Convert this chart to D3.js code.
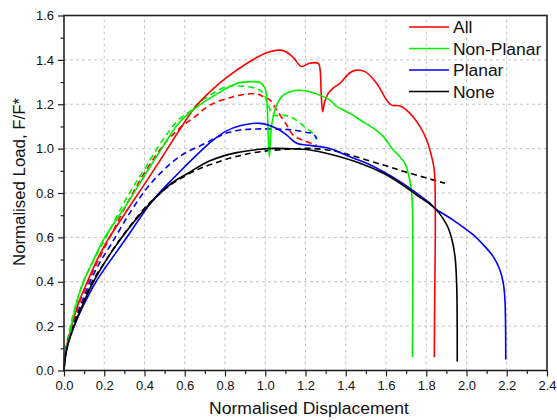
<!DOCTYPE html>
<html>
<head>
<meta charset="utf-8">
<script src="https://cdn.jsdelivr.net/npm/d3@7"></script>
<style>
  html, body { margin: 0; padding: 0; background: #fff; }
  svg { display: block; font-family: "Liberation Sans", Arial, sans-serif; }
</style>
</head>
<body>
<svg id="chart" width="557" height="420"></svg>
<script>
// Load–displacement curves, [normalised displacement, normalised load]
const allSolid = [
  [0,0],[0.005,0.06],[0.015,0.12],[0.038,0.2],[0.07,0.3],[0.116,0.4],[0.165,0.5],[0.212,0.58],
  [0.320,0.731],[0.402,0.842],[0.485,0.958],[0.568,1.076],[0.650,1.185],[0.73,1.26],[0.81,1.322],
  [0.91,1.385],[1.007,1.432],[1.065,1.444],[1.10,1.438],[1.14,1.41],[1.18,1.37],[1.22,1.385],
  [1.264,1.384],[1.272,1.36],[1.278,1.25],[1.285,1.166],[1.295,1.21],[1.313,1.249],[1.340,1.275],
  [1.371,1.294],[1.421,1.342],[1.454,1.354],[1.496,1.347],[1.554,1.294],[1.603,1.219],[1.628,1.196],
  [1.670,1.192],[1.719,1.159],[1.769,1.099],[1.802,1.039],[1.827,0.963],[1.840,0.903],[1.845,0.72],
  [1.842,0.32],[1.840,0.06]
];
const allDashed = [
  [0,0],[0.005,0.06],[0.015,0.12],[0.040,0.2],[0.075,0.3],[0.120,0.4],[0.200,0.55],
  [0.336,0.79],[0.42,0.92],[0.502,1.025],[0.585,1.10],[0.651,1.144],[0.725,1.196],[0.841,1.234],
  [0.924,1.247],[0.965,1.245],[0.990,1.234],[1.024,1.219],[1.057,1.174],[1.107,1.106],[1.139,1.061],
  [1.206,1.031],[1.256,1.016]
];
const nonPlanarSolid = [
  [0,0],[0.005,0.07],[0.021,0.137],[0.046,0.242],[0.071,0.333],[0.104,0.415],[0.146,0.498],
  [0.195,0.588],[0.320,0.761],[0.402,0.881],[0.485,1.0],[0.568,1.112],[0.651,1.181],[0.750,1.241],
  [0.858,1.294],[0.933,1.302],[0.974,1.298],[0.999,1.272],[1.010,1.18],[1.020,0.963],[1.032,1.106],
  [1.057,1.196],[1.090,1.241],[1.139,1.261],[1.206,1.260],[1.272,1.241],[1.322,1.219],[1.355,1.19],
  [1.421,1.159],[1.471,1.129],[1.537,1.092],[1.587,1.054],[1.636,0.994],[1.661,0.971],[1.694,0.934],
  [1.710,0.89],[1.725,0.82],[1.731,0.75],[1.731,0.06]
];
const nonPlanarDashed = [
  [0,0],[0.005,0.08],[0.02,0.15],[0.045,0.25],[0.096,0.4],[0.15,0.5],[0.220,0.62],[0.320,0.791],
  [0.402,0.911],[0.485,1.031],[0.568,1.129],[0.634,1.174],[0.676,1.211],[0.808,1.279],[0.875,1.282],
  [0.958,1.270],[0.990,1.249],[1.015,1.196],[1.040,1.151],[1.090,1.151],[1.139,1.137],[1.206,1.091],
  [1.247,1.061],[1.256,1.049]
];
const planarSolid = [
  [0,0],[0.005,0.05],[0.02,0.12],[0.05,0.2],[0.1,0.3],[0.159,0.4],[0.303,0.588],
  [0.436,0.761],[0.568,0.889],[0.651,0.964],[0.742,1.039],[0.808,1.080],[0.875,1.103],[0.974,1.114],
  [1.057,1.091],[1.107,1.061],[1.156,1.024],[1.206,1.016],[1.272,1.009],[1.322,1.001],[1.421,0.963],
  [1.504,0.934],[1.587,0.896],[1.670,0.851],[1.752,0.799],[1.819,0.753],[1.843,0.731],[1.934,0.678],
  [2.034,0.611],[2.084,0.566],[2.133,0.513],[2.166,0.453],[2.183,0.393],[2.191,0.318],[2.195,0.05]
];
const planarDashed = [
  [0,0],[0.005,0.06],[0.015,0.12],[0.043,0.2],[0.085,0.3],[0.129,0.4],[0.18,0.49],[0.237,0.573],
  [0.320,0.70],[0.402,0.81],[0.485,0.895],[0.585,0.971],[0.684,1.016],[0.750,1.046],[0.808,1.07],
  [0.875,1.084],[0.974,1.089],[1.090,1.087],[1.139,1.084],[1.206,1.073],[1.239,1.066],[1.256,1.042]
];
const noneSolid = [
  [0,0],[0.005,0.05],[0.02,0.12],[0.05,0.2],[0.095,0.3],[0.146,0.4],[0.278,0.588],
  [0.436,0.761],[0.535,0.844],[0.618,0.89],[0.725,0.945],[0.858,0.982],[0.974,0.997],
  [1.05,1.001],[1.107,1.0],[1.222,0.994],[1.338,0.971],[1.471,0.934],[1.587,0.889],[1.670,0.844],
  [1.752,0.791],[1.843,0.731],[1.902,0.656],[1.926,0.596],[1.943,0.513],[1.951,0.393],[1.954,0.04]
];
const noneDashed = [
  [0,0],[0.005,0.06],[0.02,0.13],[0.05,0.21],[0.09,0.3],[0.14,0.4],[0.20,0.485],[0.27,0.58],
  [0.353,0.68],[0.436,0.765],[0.535,0.84],[0.65,0.9],[0.75,0.935],[0.858,0.965],[0.974,0.986],
  [1.107,0.997],[1.222,1.001],[1.338,0.99],[1.421,0.971],[1.587,0.926],[1.719,0.889],[1.893,0.844]
];

const seriesNames = ["All", "Non-Planar", "Planar", "None"];
const seriesColors = ["#ff0000", "#00f000", "#0000ff", "#000000"];
const solidData = [allSolid, nonPlanarSolid, planarSolid, noneSolid];
const dashedData = [allDashed, nonPlanarDashed, planarDashed, noneDashed];

const xTicks = [0, 0.2, 0.4, 0.6, 0.8, 1.0, 1.2, 1.4, 1.6, 1.8, 2.0, 2.2, 2.4];
const yTicks = [0, 0.2, 0.4, 0.6, 0.8, 1.0, 1.2, 1.4, 1.6];

const margin = { left: 64, right: 10, top: 15.5, bottom: 49.5 };
const W = 557, H = 420;
const svg = d3.select("#chart");

const x = d3.scaleLinear().domain([0, 2.4]).range([margin.left, W - margin.right]);
const y = d3.scaleLinear().domain([0, 1.6]).range([H - margin.bottom, margin.top]);

// grid
const grid = svg.append("g").attr("stroke", "#c4c4c4").attr("stroke-width", 1)
  .attr("stroke-dasharray", "3,3");
xTicks.slice(1, -1).forEach(t => {
  grid.append("line").attr("x1", x(t)).attr("x2", x(t)).attr("y1", y(0)).attr("y2", y(1.6));
});
yTicks.slice(1, -1).forEach(t => {
  grid.append("line").attr("x1", x(0)).attr("x2", x(2.4)).attr("y1", y(t)).attr("y2", y(t));
});

// curves
const line = d3.line().x(d => x(d[0])).y(d => y(d[1])).curve(d3.curveCatmullRom.alpha(0.5));
const curves = svg.append("g").attr("fill", "none");
dashedData.forEach((data, i) => {
  curves.append("path").attr("d", line(data)).attr("stroke", seriesColors[i])
    .attr("stroke-width", 1.6).attr("stroke-dasharray", "6,4");
});
solidData.forEach((data, i) => {
  curves.append("path").attr("d", line(data)).attr("stroke", seriesColors[i])
    .attr("stroke-width", 1.6).attr("stroke-linejoin", "round");
});

// axes
const fmt = d3.format(".1f");
const minorX = d3.range(0.1, 2.4, 0.2);
const minorY = d3.range(0.1, 1.6, 0.2);

svg.append("g").attr("transform", `translate(0,${y(0)})`)
  .call(d3.axisBottom(x).tickValues(xTicks).tickFormat(fmt).tickSize(6).tickSizeOuter(0).tickPadding(4));
svg.append("g").attr("transform", `translate(${x(0)},0)`)
  .call(d3.axisLeft(y).tickValues(yTicks).tickFormat(fmt).tickSize(6).tickSizeOuter(0).tickPadding(4));
svg.append("g").attr("transform", `translate(0,${y(0)})`)
  .call(d3.axisBottom(x).tickValues(minorX).tickFormat("").tickSize(3.5).tickSizeOuter(0));
svg.append("g").attr("transform", `translate(${x(0)},0)`)
  .call(d3.axisLeft(y).tickValues(minorY).tickFormat("").tickSize(3.5).tickSizeOuter(0));

svg.selectAll(".tick line").attr("stroke", "#222").attr("stroke-width", 1.2);
svg.selectAll(".domain").remove();
svg.selectAll(".tick text").attr("font-size", 13).attr("fill", "#111")
  .attr("font-family", "Liberation Sans, Arial, sans-serif");

// frame
svg.append("rect").attr("x", x(0)).attr("y", y(1.6))
  .attr("width", x(2.4) - x(0)).attr("height", y(0) - y(1.6))
  .attr("fill", "none").attr("stroke", "#222").attr("stroke-width", 1.6);

// axis titles
svg.append("text").attr("x", 309).attr("y", 414).attr("text-anchor", "middle")
  .attr("font-size", 16).attr("fill", "#111")
  .attr("textLength", 200).attr("lengthAdjust", "spacingAndGlyphs")
  .text("Normalised Displacement");
svg.append("text").attr("transform", "translate(25,182) rotate(-90)").attr("text-anchor", "middle")
  .attr("font-size", 16).attr("fill", "#111")
  .attr("textLength", 168).attr("lengthAdjust", "spacingAndGlyphs")
  .text("Normalised Load, F/F*");

// legend
const legend = svg.append("g");
const legendY = [27, 48.5, 70, 91.5];
seriesNames.forEach((name, i) => {
  legend.append("line").attr("x1", 409).attr("x2", 449)
    .attr("y1", legendY[i]).attr("y2", legendY[i])
    .attr("stroke", seriesColors[i]).attr("stroke-width", 1.6);
  const t = legend.append("text").attr("x", 453).attr("y", legendY[i] + 6)
    .attr("font-size", 16).attr("fill", "#111").text(name);
  const w = t.node().getComputedTextLength();
  t.attr("textLength", w * 1.09).attr("lengthAdjust", "spacingAndGlyphs");
});
</script>
</body>
</html>
